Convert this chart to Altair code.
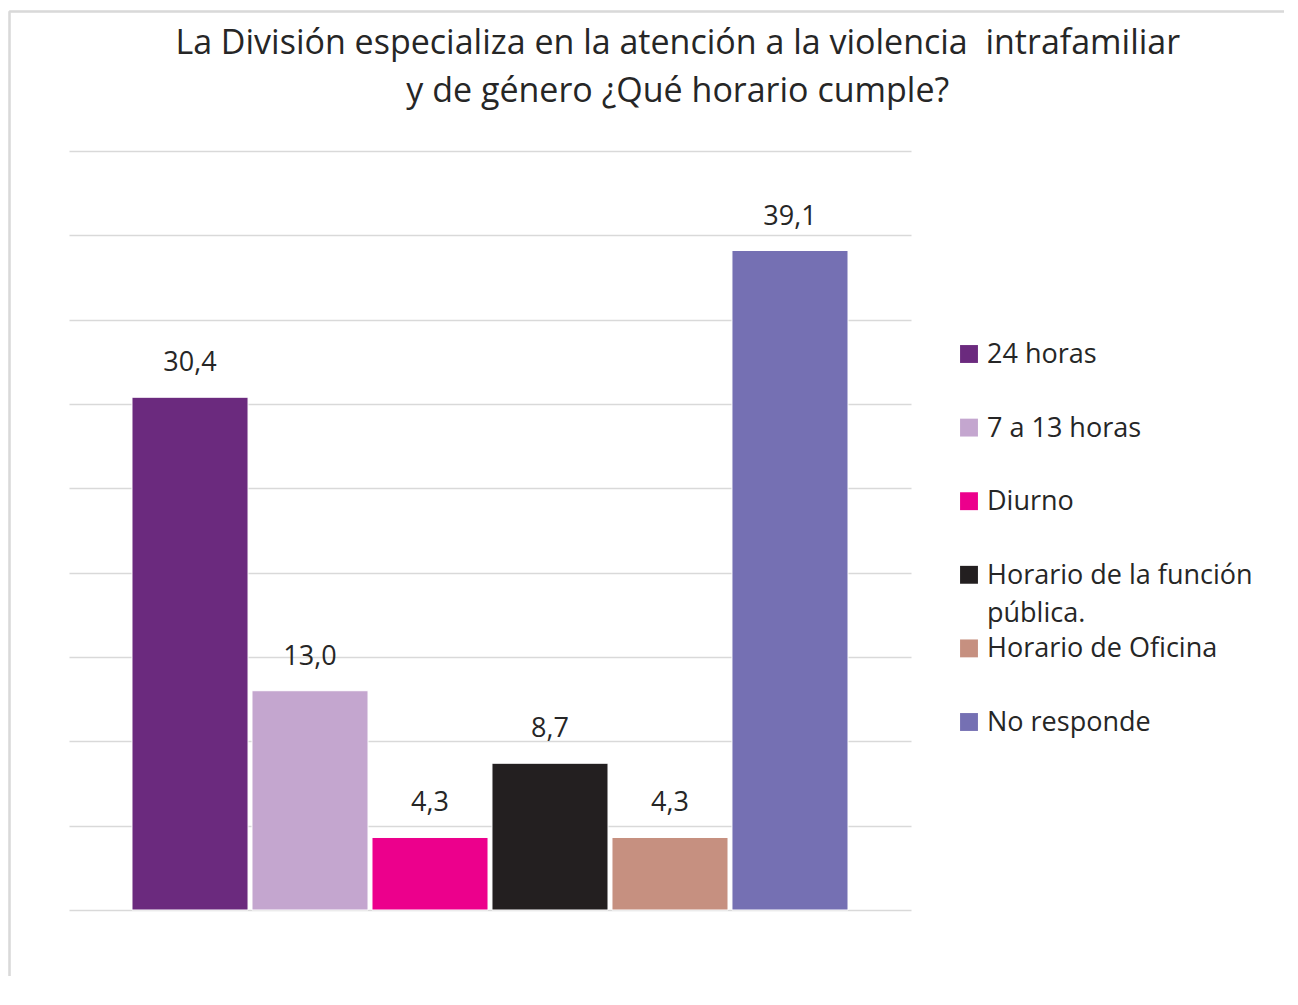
import altair as alt
import pandas as pd

categories = ["24 horas", "7 a 13 horas", "Diurno", "Horario de la función pública.",
              "Horario de Oficina", "No responde"]
values = [30.4, 13.0, 4.3, 8.7, 4.3, 39.1]
value_labels = ["30,4", "13,0", "4,3", "8,7", "4,3", "39,1"]
legend_labels = ["24 horas", "7 a 13 horas", "Diurno", "Horario de la función\npública.",
                 "Horario de Oficina", "No responde"]
colors = ["#6B2A7E", "#C4A6CF", "#EC008C", "#231F20", "#C69080", "#7570B3"]
y_ticks = [0, 5, 10, 15, 20, 25, 30, 35, 40, 45]
title_lines = ["La División especializa en la atención a la violencia \u00a0intrafamiliar",
               "y de género ¿Qué horario cumple?"]

df = pd.DataFrame({"cat": categories, "value": values, "label": value_labels,
                   "legend": legend_labels})

FONT = "Open Sans"
TXT = "#262626"
BORDER = "#D9D9D9"

color_scale = alt.Scale(domain=categories, range=colors)

base = alt.Chart(df).encode(
    x=alt.X("cat:N", sort=categories, axis=None,
            scale=alt.Scale(paddingInner=0.033, paddingOuter=0.525)),
    y=alt.Y("value:Q", scale=alt.Scale(domain=[0, 45], nice=False),
            axis=alt.Axis(values=y_ticks, labels=False, ticks=False, domain=False,
                          grid=True, gridColor="#D9D9D9", gridWidth=1.5, title=None)),
)

bars = base.mark_bar(stroke="white", strokeWidth=1).encode(
    color=alt.Color("cat:N", scale=color_scale, legend=None)
)
texts = base.mark_text(dy=-26, baseline="alphabetic", fontSize=27, font=FONT,
                       color=TXT).encode(text="label:N")

# light frame of the chart area (top and left edges)
frame_top = alt.Chart(df).mark_rule(color=BORDER, strokeWidth=1.5).encode(
    x=alt.value(-59.5), x2=alt.value(1215), y=alt.value(-139.5))
frame_left = alt.Chart(df).mark_rule(color=BORDER, strokeWidth=1.5).encode(
    x=alt.value(-59.5), y=alt.value(-139.5), y2=alt.value(825))

main = alt.layer(bars, texts, frame_top, frame_left).properties(width=842, height=759)

leg_y = alt.Y("cat:N", sort=categories, axis=None,
              scale=alt.Scale(type="point", range=[203, 571], padding=0))
leg_sq = alt.Chart(df).mark_square(size=320, opacity=1).encode(
    x=alt.value(58), y=leg_y,
    color=alt.Color("cat:N", scale=color_scale, legend=None))
leg_tx = alt.Chart(df).mark_text(align="left", baseline="top", dy=-12, fontSize=27,
                                 font=FONT, color=TXT, lineBreak="\n",
                                 lineHeight=38).encode(
    x=alt.value(76), y=leg_y, text="legend:N")
legend = alt.layer(leg_sq, leg_tx).properties(width=370, height=759)

chart = alt.hconcat(main, legend, spacing=0, bounds="flush").properties(
    title=alt.TitleParams(title_lines, anchor="middle", fontSize=34, dx=31, dy=138,
                          font=FONT, fontWeight="normal", color=TXT, lineHeight=48,
                          offset=40)
).configure(
    padding={"left": 0, "top": 2, "right": 0, "bottom": 0}
).configure_view(stroke=None)

chart.save("out.html", embed_options={"renderer": "svg", "actions": False})
